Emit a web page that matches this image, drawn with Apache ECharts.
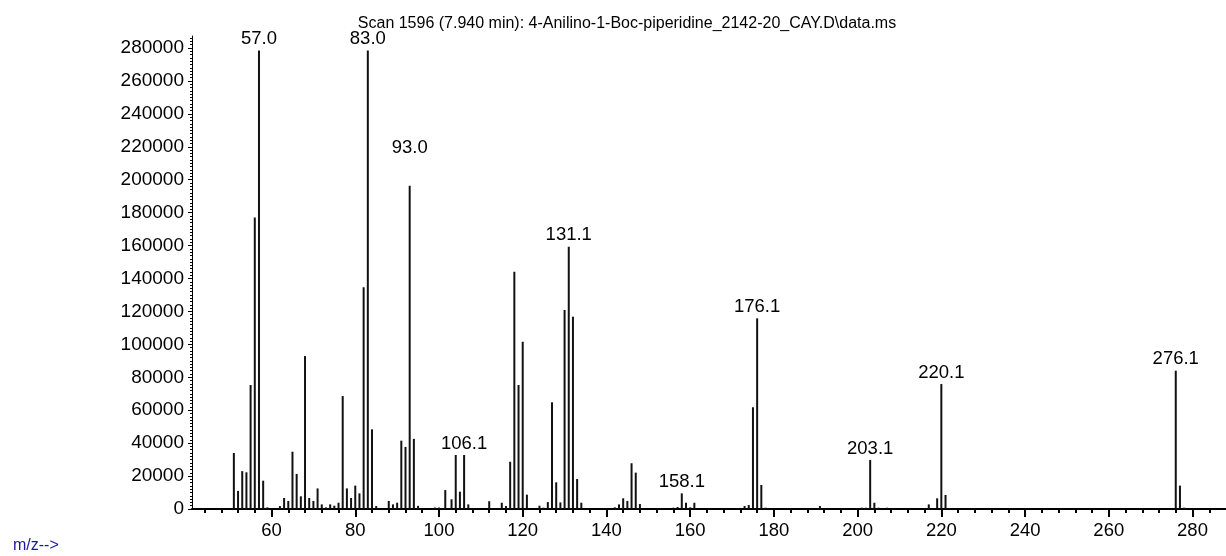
<!DOCTYPE html>
<html>
<head>
<meta charset="utf-8">
<script src="https://cdn.jsdelivr.net/npm/echarts@6/dist/echarts.min.js"></script>
<style>
html,body{margin:0;padding:0;background:#fff;}
#chart{width:1226px;height:556px;}
</style>
</head>
<body>
<div id="chart"></div>
<script>
// m/z values (x) and abundances (y)
const mzValues = [51,52,53,54,55,56,57,58,59,62,63,64,65,66,67,68,69,70,71,72,73,74,75,76,77,78,79,80,81,82,83,84,85,88,89,90,91,92,93,94,95,99,100,101.5,103,104,105,106,107,112,115,116,117,118,119,120,121,124,125,126,127,128,129,130,131,132,133,134,142,143,144,145,146,147,148,156,157,158,159,160,161,173,174,175,176,177,178,191,201,202,203,204,205,207,217,219,220,221,222,276,277,278];
const abundance = [34000,11000,23000,22300,75300,177000,278500,17200,1000,1800,6700,4900,34800,21300,7700,92900,6700,4900,12500,2800,1000,2800,2000,3800,68600,12500,6700,14200,9500,134700,278500,48400,1800,4900,2800,3800,41500,37700,196400,42600,1900,900,900,11500,5900,32800,10500,32800,2800,4700,3800,1800,28700,144100,75300,101600,8700,2000,800,4200,64800,16200,4000,120900,159300,116800,18200,3800,1000,2800,6500,4900,27800,22100,3000,800,1200,9500,3800,1000,3800,1800,2400,61800,115800,14600,800,1800,800,800,29800,3800,800,800,2800,6500,75900,8500,600,84000,14200,800];
// labelled peaks
const labelMz = [57,83,93,106,131,158,176,203,220,276];
const labelText = ['57.0','83.0','93.0','106.1','131.1','158.1','176.1','203.1','220.1','276.1'];
// axis ticks
const xLabelTicks = [60,80,100,120,140,160,180,200,220,240,260,280];
const xMinorTicks = [44,48,52,56,60,64,68,72,76,80,84,88,92,96,100,104,108,112,116,120,124,128,132,136,140,144,148,152,156,160,164,168,172,176,180,184,188,192,196,200,204,208,212,216,220,224,228,232,236,240,244,248,252,256,260,264,268,272,276,280,284];
const yLabelTicks = [0,20000,40000,60000,80000,100000,120000,140000,160000,180000,200000,220000,240000,260000,280000];
const yMinorTicks = [];
for (let v = 0; v <= 286000; v += 2000) yMinorTicks.push(v);

const titleText = 'Scan 1596 (7.940 min): 4-Anilino-1-Boc-piperidine_2142-20_CAY.D\\data.ms';
const FONT = "'Liberation Sans', Arial, sans-serif";

const seriesData = mzValues.map((m, i) => {
  const li = labelMz.indexOf(m);
  const item = { value: [m, abundance[i]] };
  if (li >= 0) {
    item.label = {
      show: true, position: 'top', distance: (m === 93 ? 28 : 2),
      formatter: labelText[li], color: '#000', fontSize: 18.5, fontFamily: FONT
    };
  }
  return item;
});

const chart = echarts.init(document.getElementById('chart'), null, {renderer: 'canvas'});
chart.setOption({
  animation: false,
  backgroundColor: '#fff',
  grid: { left: 192, right: 0, top: 36, bottom: 47, containLabel: false },
  xAxis: [
    { type: 'value', min: 41, max: 288, position: 'bottom',
      axisLine: { show: true, lineStyle: { color: '#000', width: 2 } },
      axisTick: { show: true, length: 8, lineStyle: { color: '#000', width: 2 }, customValues: xLabelTicks },
      axisLabel: { show: true, margin: 12, color: '#000', fontSize: 18.5, fontFamily: FONT, customValues: xLabelTicks, formatter: v => String(v) },
      splitLine: { show: false } },
    { type: 'value', min: 41, max: 288, position: 'bottom', gridIndex: 0,
      axisLine: { show: false },
      axisTick: { show: true, length: 4, lineStyle: { color: '#000', width: 2 }, customValues: xMinorTicks },
      axisLabel: { show: false },
      splitLine: { show: false } }
  ],
  yAxis: [
    { type: 'value', min: 0, max: 287300, position: 'left',
      axisLine: { show: true, lineStyle: { color: '#000', width: 1 } },
      axisTick: { show: true, length: 4, lineStyle: { color: '#000', width: 1 }, customValues: yLabelTicks },
      axisLabel: { show: true, margin: 8, color: '#000', fontSize: 19, fontFamily: FONT, customValues: yLabelTicks, formatter: v => String(v) },
      splitLine: { show: false } },
    { type: 'value', min: 0, max: 287300, position: 'left',
      axisLine: { show: false },
      axisTick: { show: true, length: 2, lineStyle: { color: '#000', width: 1 }, customValues: yMinorTicks },
      axisLabel: { show: false },
      splitLine: { show: false } }
  ],
  series: [{
    type: 'bar', xAxisIndex: 0, yAxisIndex: 0,
    barWidth: 2, itemStyle: { color: '#111' },
    emphasis: { disabled: true },
    data: seriesData
  }],
  graphic: [
    { type: 'text', x: 627, y: 24, style: { text: titleText, textAlign: 'center', textVerticalAlign: 'middle', fill: '#000', font: "16px 'Liberation Sans', Arial, sans-serif" } },
    { type: 'text', x: 13, y: 546, style: { text: 'm/z-->', textAlign: 'left', textVerticalAlign: 'middle', fill: '#1a1aa0', font: "16px 'Liberation Sans', Arial, sans-serif" } }
  ]
});
</script>
</body>
</html>
